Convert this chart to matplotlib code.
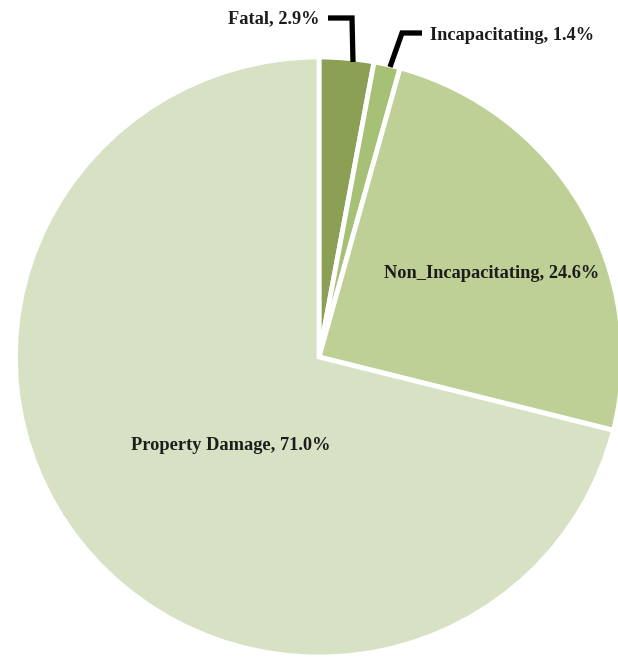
import matplotlib
matplotlib.use("Agg")
import matplotlib.pyplot as plt

categories = ["Fatal", "Incapacitating", "Non_Incapacitating", "Property Damage"]
shares = [2.9, 1.4, 24.6, 71.0]
colors = ["#8ba055", "#a6c076", "#bed096", "#d7e1c3"]

W, H = 618, 658
# the pie is a touch wider than it is tall
SX = 1.012

fig = plt.figure(figsize=(W / 100, H / 100), dpi=100)
ax = fig.add_axes([0, 0, 1, 1])


def px(x):
    return x / SX


def py(y):
    return H - y


cx, cy, r = px(319), py(357), 300

ax.pie(shares, colors=colors, startangle=90, counterclock=False,
       center=(cx, cy), radius=r, frame=True,
       wedgeprops=dict(edgecolor="white", linewidth=3.5))
ax.set_aspect("auto")
ax.set_xlim(0, px(W))
ax.set_ylim(0, H)
ax.axis("off")

font = dict(family="Liberation Serif", weight="bold", fontsize=13.2,
            color="#1c1c1c")


def label(i):
    return "%s, %.1f%%" % (categories[i], shares[i])


# leader lines for the two thin slices
ax.plot([px(328), px(352), px(353)], [py(18), py(18), py(62)], color="black",
        linewidth=3.8, solid_capstyle="butt", solid_joinstyle="miter")
ax.plot([px(422), px(402), px(390)], [py(33), py(33), py(67)], color="black",
        linewidth=3.8, solid_capstyle="butt", solid_joinstyle="miter")

ax.text(px(319), py(19), label(0), ha="right", va="center", **font)
ax.text(px(430), py(35), label(1), ha="left", va="center", **font)
ax.text(px(492), py(273), label(2), ha="center", va="center", **font)
ax.text(px(231), py(445), label(3), ha="center", va="center", **font)

fig.savefig("out.png", dpi=100)
